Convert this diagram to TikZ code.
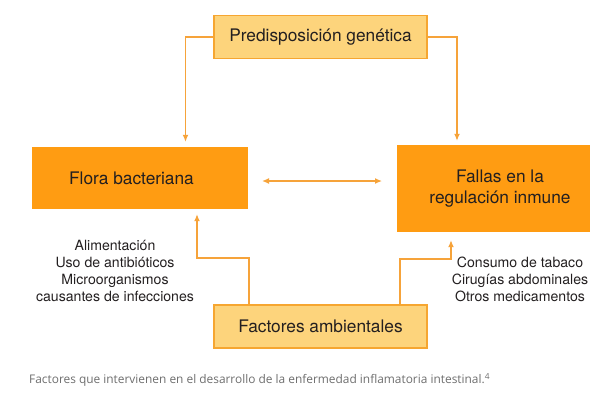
\documentclass[tikz,border=0pt]{standalone}
\usepackage{fontspec}
\setmainfont{TeX Gyre Heros}
\newfontfamily\capfont{Open Sans}
\usetikzlibrary{arrows.meta}

\definecolor{boxlight}{HTML}{FDD47C}
\definecolor{boxline}{HTML}{F6A631}
\definecolor{boxdark}{HTML}{FF9C12}
\definecolor{linkcol}{HTML}{F6A33A}
\definecolor{txtcol}{HTML}{231F20}
\definecolor{capcol}{HTML}{6E6E6E}

\tikzset{
  lightbox/.style={draw=boxline, line width=1.2pt, fill=boxlight, inner sep=0pt,
    text=txtcol, font=\fontsize{17.3}{20}\selectfont},
  darkbox/.style={fill=boxdark, inner sep=0pt, text=txtcol, align=center,
    font=\fontsize{17.3}{21}\selectfont},
  factors/.style={align=center, text=txtcol, font=\fontsize{14.1}{17.3}\selectfont},
  link/.style={draw=linkcol, line width=1.3pt, >={Latex[length=7pt,width=6pt]}}
}

\begin{document}
\begin{tikzpicture}[x=1pt,y=-1pt]

\useasboundingbox (0,0) rectangle (612,400);

\node[lightbox, minimum width=213pt, minimum height=43pt] (gen) at (320.5,37) {Predisposición genética};
\node[darkbox, minimum width=216pt, minimum height=62pt] (flora) at (140,178) {Flora bacteriana\hspace*{17pt}};
\node[darkbox, minimum width=193pt, minimum height=87pt] (fallas) at (493.5,188.5) {\hspace*{13pt}Fallas en la\\\hspace*{13pt}regulación inmune};
\node[lightbox, minimum width=213pt, minimum height=43pt] (amb) at (320.5,326.5) {Factores ambientales};

\node[factors] (floraf) at (115,271) {Alimentación\\Uso de antibióticos\\Microorganismos\\causantes de infecciones};
\node[factors] (fallasf) at (520,279.5) {Consumo de tabaco\\Cirugías abdominales\\Otros medicamentos};

\coordinate (genL) at (185.5,37);
\coordinate (genR) at (457,37);
\coordinate (midL) at (262,181);
\coordinate (midR) at (382,181);
\coordinate (ambL) at (249,258);
\coordinate (floraB) at (197,258);
\coordinate (ambR) at (400,259);
\coordinate (fallasB) at (451,259);

\draw [link,->,shorten >=5pt] (gen.west) -- (genL) -- (genL |- flora.north);
\draw [link,->,shorten >=4pt] (gen.east) -- (genR) -- (genR |- fallas.north);
\draw [link,<->] (midL) -- (midR);
\draw [link,->,shorten >=5pt] (ambL |- amb.north) -- (ambL) -- (floraB) -- (floraB |- flora.south);
\draw [link,->,shorten >=8pt] (ambR |- amb.north) -- (ambR) -- (fallasB) -- (fallasB |- fallas.south);

\node[right, text=capcol, font=\capfont\fontsize{11.9}{14}\selectfont, inner sep=0pt] (caption) at (29,380)
  {Factores que intervienen en el desarrollo de la enfermedad inflamatoria intestinal.\textsuperscript{4}};

\end{tikzpicture}
\end{document}
